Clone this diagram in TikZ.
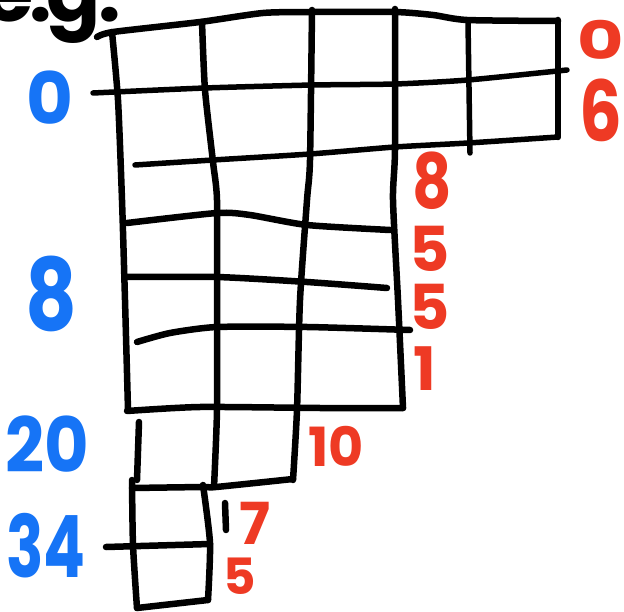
\documentclass[tikz,border=0pt]{standalone}
\usepackage{fontspec}
\setmainfont{Poppins}
\newcommand\fsz[1]{\fontsize{#1}{#1}\selectfont}
\definecolor{hblue}{RGB}{22,116,246}
\definecolor{hred}{RGB}{238,58,36}
\tikzset{
  ink/.style={line width=6.5pt, line cap=round, line join=round, black},
  thinink/.style={line width=5.5pt, line cap=round, line join=round, black},
  bluelbl/.style={text=hblue, inner sep=0pt, anchor=center, font=\bfseries},
  redlbl/.style={text=hred, inner sep=0pt, anchor=center, font=\bfseries},
}
\begin{document}
\begin{tikzpicture}[x=1pt,y=-1pt]
\useasboundingbox (0,0) rectangle (624,612);
% "e.g." (cut at the top edge)
\node[inner sep=0pt, anchor=base west, font=\bfseries\fsz{80}] (eg) at (-16,22) {e\kern-4pt.\kern-6pt g\kern-2pt.};

% ---- top block (two rows of six cells) ----
\draw[ink] plot[smooth, tension=0.4] coordinates {(97,37) (113,32) (200,22) (263,13) (313,12) (395,12) (433,15) (467,20) (558,21)};
\draw[ink] (558,20) -- (558,137);
\draw[thinink] plot[smooth, tension=0.4] coordinates {(93,93) (205,88) (313,85) (395,84) (468,80) (567,70)};
\draw[thinink] plot[smooth, tension=0.4] coordinates {(135,165) (213,160) (310,154) (395,147) (468,143) (558,137)};
\draw[ink] plot[smooth, tension=0.4] coordinates {(112,32) (118,100) (122,200) (125,300) (128,410)};
\draw[ink] plot[smooth, tension=0.4] coordinates {(202,22) (205,90) (213,162) (217,200) (217,300) (217,410) (214,487)};
\draw[ink] plot[smooth, tension=0.4] coordinates {(312,10) (310,160) (307,200) (300,300) (297,410) (293,480)};
\draw[ink] plot[smooth, tension=0.4] coordinates {(395,9) (395,150) (393,200) (398,300) (403,408)};
\draw[thinink] (468,22) -- (470,153);

% ---- middle block ----
\draw[ink] plot[smooth, tension=0.4] coordinates {(127,223) (217,213) (250,215) (307,225) (390,230)};
\draw[ink] plot[smooth, tension=0.4] coordinates {(125,277) (217,277) (307,282) (387,288)};
\draw[ink] plot[smooth, tension=0.4] coordinates {(137,342) (170,333) (217,327) (307,327) (410,330)};
\draw[ink] plot[smooth, tension=0.4] coordinates {(127,411) (200,407) (320,408) (403,408)};

% ---- lower block ----
\draw[ink] (139,422) -- (137,480);
\draw[ink] plot[smooth, tension=0.4] coordinates {(132,488) (203,487) (216,487) (293,479)};
\draw[ink] plot[smooth, tension=0.4] coordinates {(132,480) (133,545) (137,608)};
\draw[ink] plot[smooth, tension=0.4] coordinates {(203,485) (210,543) (208,600)};
\draw[ink] (106,547) -- (210,544);
\draw[ink] (137,608) -- (208,600);
\draw[ink] (225,503) -- (226,530);

% ---- blue labels (left) ----
\node[bluelbl, font=\bfseries\fsz{72}] (b0) at (50,98) {0};
\node[bluelbl, font=\bfseries\fsz{100}] (b8) at (51,294) {\scalebox{0.8}[1]{8}};
\node[bluelbl, font=\bfseries\fsz{76}] (b20) at (47,444) {\scalebox{0.9}[1]{20}};
\node[bluelbl, font=\bfseries\fsz{86}] (b34) at (46,546) {\scalebox{0.72}[1]{34}};

% ---- red labels (right) ----
\node[redlbl, font=\bfseries\fsz{62}] (r0) at (601,40) {\scalebox{1.15}[0.85]{0}};
\node[redlbl, font=\bfseries\fsz{84}] (r6) at (601,110) {\scalebox{0.8}[1]{6}};
\node[redlbl, font=\bfseries\fsz{76}] (r8) at (432,181) {\scalebox{0.8}[1]{8}};
\node[redlbl, font=\bfseries\fsz{62}] (r5a) at (430,249) {5};
\node[redlbl, font=\bfseries\fsz{62}] (r5b) at (430,307) {5};
\node[redlbl, font=\bfseries\fsz{60}] (r1) at (425,369) {1};
\node[redlbl, font=\bfseries\fsz{54}] (r10) at (336,446) {10};
\node[redlbl, font=\bfseries\fsz{58}] (r7) at (255,523) {7};
\node[redlbl, font=\bfseries\fsz{50}] (r5c) at (240,576) {5};
\end{tikzpicture}
\end{document}
